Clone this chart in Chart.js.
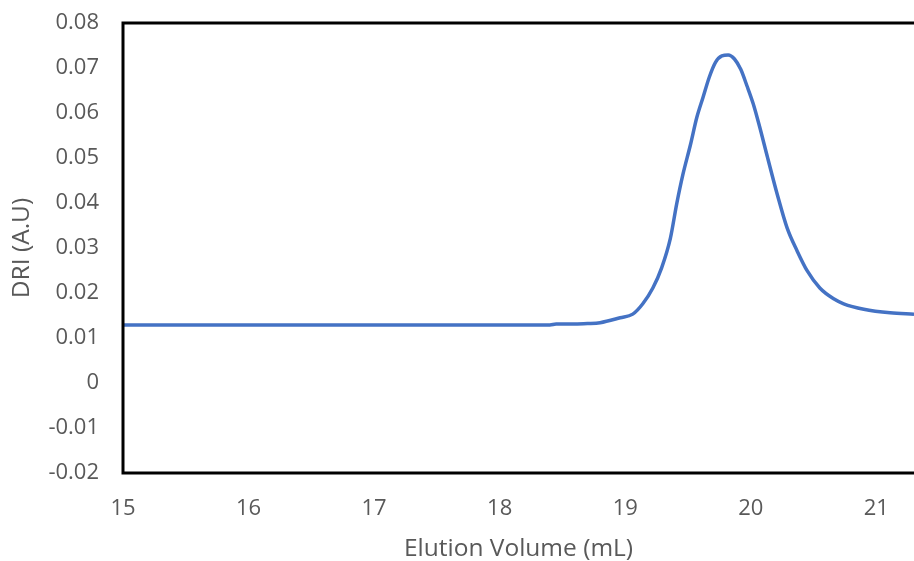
<!DOCTYPE html>
<html>
<head>
<meta charset="utf-8">
<script src="https://cdn.jsdelivr.net/npm/chart.js@4/dist/chart.umd.min.js"></script>
<style>
  html, body { margin: 0; padding: 0; background: #ffffff; overflow: hidden; }
  #wrap { width: 914px; height: 561px; }
</style>
</head>
<body>
<div id="wrap"><canvas id="c" width="914" height="561"></canvas></div>
<script>
// Elution volume (mL) and DRI detector response (A.U)
const elutionVolume = [
  15.00, 15.50, 16.00, 16.50, 17.00, 17.50, 18.00, 18.40, 18.45, 18.60,
  18.70, 18.80, 18.96, 19.06, 19.14, 19.22, 19.29, 19.36, 19.41, 19.46,
  19.52, 19.57, 19.62, 19.67, 19.72, 19.77, 19.82, 19.87, 19.92, 19.97,
  20.02, 20.07, 20.13, 20.21, 20.29, 20.37, 20.45, 20.55, 20.66, 20.74,
  20.90, 21.11, 21.30
];
const driSignal = [
  0.0129, 0.0129, 0.0129, 0.0129, 0.0129, 0.0129, 0.0129, 0.0129, 0.0131, 0.0131,
  0.0132, 0.0134, 0.0145, 0.0153, 0.0176, 0.0211, 0.0256, 0.0322, 0.0398, 0.0464,
  0.0530, 0.0590, 0.0635, 0.0680, 0.0713, 0.0727, 0.0729, 0.0720, 0.0697, 0.0660,
  0.0620, 0.0570, 0.0505, 0.0420, 0.0344, 0.0293, 0.0249, 0.0211, 0.0187, 0.0176,
  0.0164, 0.0156, 0.0153
];
const xTickValues = [15, 16, 17, 18, 19, 20, 21];
const yTickValues = [-0.02, -0.01, 0, 0.01, 0.02, 0.03, 0.04, 0.05, 0.06, 0.07, 0.08];

const xTitle = 'Elution Volume (mL)';
const yTitle = 'DRI (A.U)';

const points = elutionVolume.map((v, i) => ({ x: v, y: driSignal[i] }));
const textColor = '#595959';

// Black frame on the top, left and bottom of the plot area
const plotFrame = {
  id: 'plotFrame',
  afterDatasetsDraw(chart) {
    const { ctx, chartArea: a } = chart;
    ctx.save();
    ctx.strokeStyle = '#000000';
    ctx.lineWidth = 3;
    ctx.lineCap = 'square';
    ctx.beginPath();
    ctx.moveTo(a.right + 2, a.top);
    ctx.lineTo(a.left, a.top);
    ctx.lineTo(a.left, a.bottom);
    ctx.lineTo(a.right + 2, a.bottom);
    ctx.stroke();
    ctx.restore();
  }
};

new Chart(document.getElementById('c'), {
  type: 'line',
  data: {
    datasets: [{
      data: points,
      borderColor: '#4472C4',
      borderWidth: 3.5,
      pointRadius: 0,
      cubicInterpolationMode: 'monotone',
      fill: false
    }]
  },
  options: {
    responsive: false,
    animation: false,
    layout: { padding: { top: 23, right: 0, left: 0, bottom: 0 } },
    plugins: { legend: { display: false }, tooltip: { enabled: false } },
    scales: {
      x: {
        type: 'linear',
        min: 15,
        max: 21.3,
        grid: { display: false, drawTicks: false },
        border: { display: false },
        afterBuildTicks(scale) {
          scale.ticks = xTickValues.map(v => ({ value: v }));
        },
        afterFit(scale) {
          scale.height = 88;
          scale.paddingLeft = 0;
          scale.paddingRight = 0;
        },
        ticks: {
          color: textColor,
          font: { family: 'Open Sans', size: 22 },
          padding: 23,
          maxRotation: 0,
          autoSkip: false
        },
        title: {
          display: true,
          text: xTitle,
          color: textColor,
          font: { family: 'Open Sans', size: 24.5 },
          padding: { top: 0, bottom: -3 }
        }
      },
      y: {
        type: 'linear',
        min: -0.02,
        max: 0.08,
        grid: { display: false, drawTicks: false },
        border: { display: false },
        afterBuildTicks(scale) {
          scale.ticks = yTickValues.map(v => ({ value: v }));
        },
        afterFit(scale) {
          scale.width = 123;
          scale.paddingTop = 0;
          scale.paddingBottom = 0;
        },
        ticks: {
          color: textColor,
          font: { family: 'Open Sans', size: 22 },
          padding: 24,
          autoSkip: false,
          callback: v => (Math.abs(v) < 1e-9 ? '0' : v.toFixed(2))
        },
        title: {
          display: true,
          text: yTitle,
          color: textColor,
          font: { family: 'Open Sans', size: 24.5 },
          padding: { top: 7, bottom: 0 }
        }
      }
    }
  },
  plugins: [plotFrame]
});
</script>
</body>
</html>
